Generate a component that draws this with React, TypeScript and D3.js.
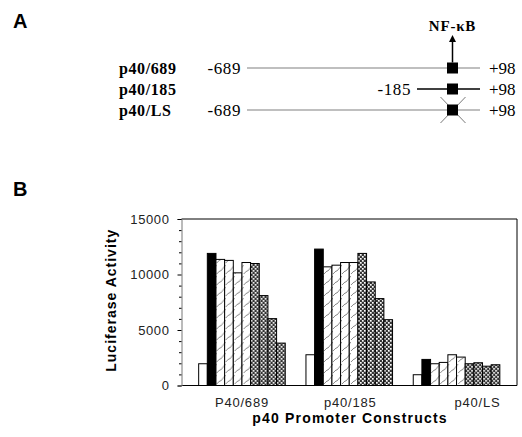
import React, { useEffect, useRef } from "react";
import * as d3 from "d3";

// panel B data
const groups = ["P40/689", "p40/185", "p40/LS"];
const series = ["s1", "s2", "s3", "s4", "s5", "s6", "s7", "s8", "s9", "s10"];
const seriesFill = ["white", "black", "hatch", "hatch", "hatch", "hatch", "dots", "dots", "dots", "dots"];
const valuesP689 = [1960, 11900, 11360, 11270, 10150, 11080, 10990, 8100, 6025, 3820];
const valuesP185 = [2770, 12290, 10690, 10840, 11080, 11080, 11900, 9330, 7830, 5930];
const valuesPLS = [970, 2350, 1960, 2080, 2770, 2560, 1960, 2050, 1740, 1870];
const groupValues = [valuesP689, valuesP185, valuesPLS];
const yTicks = [0, 5000, 10000, 15000];
const yMinorTicks = [1000, 2000, 3000, 4000, 6000, 7000, 8000, 9000, 11000, 12000, 13000, 14000];

// panel A data
const constructs = ["p40/689", "p40/185", "p40/LS"];
const starts = [-689, -185, -689];
const ends = [98, 98, 98];
const startLabels = ["-689", "-185", "-689"];
const endLabels = ["+98", "+98", "+98"];
const siteMutated = [false, false, true];
const nfkbSite = -110;

const width = 522;
const height = 437;

const sans = "'Liberation Sans', Arial, sans-serif";
const serif = "'Liberation Serif', 'Times New Roman', serif";

const left = 181.5;
const right = 517;
const top = 219;
const bottom = 385.5;

const x0 = d3.scaleBand().domain(groups).range([left, right]).paddingInner(0.193).paddingOuter(0.16);
const x1 = d3.scaleBand().domain(series).range([0, x0.bandwidth()]).padding(0);
const yB = d3.scaleLinear().domain([0, 15000]).range([bottom, top]);
const labelShift = [0, 1, 21];

export default function App() {
  const svgRef = useRef<SVGSVGElement>(null);

  useEffect(() => {
    const svg = d3.select(svgRef.current).select<SVGGElement>("g.chart");
    svg.selectAll("*").remove();

    const defs = svg.append("defs");
    const hatch = defs
      .append("pattern")
      .attr("id", "hatch")
      .attr("patternUnits", "userSpaceOnUse")
      .attr("width", 9)
      .attr("height", 11);
    hatch.append("rect").attr("width", 9).attr("height", 11).attr("fill", "white");
    hatch
      .append("path")
      .attr("d", "M0,10 L3,7 L4,7 L9,1")
      .attr("stroke", "#555")
      .attr("stroke-width", 0.7)
      .attr("fill", "none");

    const dots = defs
      .append("pattern")
      .attr("id", "dots")
      .attr("patternUnits", "userSpaceOnUse")
      .attr("width", 4)
      .attr("height", 4);
    dots.append("rect").attr("width", 4).attr("height", 4).attr("fill", "#333");
    dots.append("rect").attr("x", 0).attr("y", 0).attr("width", 1.7).attr("height", 1.7).attr("fill", "white");
    dots.append("rect").attr("x", 2).attr("y", 2).attr("width", 1.7).attr("height", 1.7).attr("fill", "white");

    const fillOf = (f: string) => (f === "hatch" ? "url(#hatch)" : f === "dots" ? "url(#dots)" : f);

    // ---------- Panel A ----------
    const xA = d3.scaleLinear().domain([-689, -185, nfkbSite, 98]).range([247, 417, 452.5, 480]);
    const yA = d3.scalePoint().domain(constructs).range([68, 110]);
    const lineColor = ["#aaa", "#000", "#aaa"];

    constructs.forEach((c, i) => {
      const y = yA(c) as number;
      svg
        .append("line")
        .attr("x1", xA(starts[i]))
        .attr("x2", xA(ends[i]))
        .attr("y1", y)
        .attr("y2", y)
        .attr("stroke", lineColor[i])
        .attr("stroke-width", 1.5);
      const sx = xA(nfkbSite);
      if (siteMutated[i]) {
        svg
          .append("path")
          .attr("d", `M${sx - 12},${y - 13} L${sx + 13},${y + 13} M${sx + 13},${y - 13} L${sx - 12},${y + 13}`)
          .attr("fill", "none")
          .attr("stroke", "#555")
          .attr("stroke-width", 0.8);
      }
      svg
        .append("rect")
        .attr("x", sx - 5.5)
        .attr("y", y - 5.5)
        .attr("width", 11)
        .attr("height", 11)
        .attr("fill", "black");
    });

    // NF-kB arrow
    const sx = xA(nfkbSite);
    const y0 = (yA(constructs[0]) as number) - 5.5;
    svg
      .append("line")
      .attr("x1", sx)
      .attr("x2", sx)
      .attr("y1", y0)
      .attr("y2", 40)
      .attr("stroke", "black")
      .attr("stroke-width", 1.5);
    svg
      .append("path")
      .attr("d", `M${sx},35 L${sx - 3.5},42 L${sx + 3.5},42 Z`)
      .attr("fill", "black");

    // ---------- Panel B ----------
    const g = svg
      .selectAll("g.group")
      .data(groups)
      .enter()
      .append("g")
      .attr("class", "group")
      .attr("transform", (d) => `translate(${x0(d)},0)`);

    g.selectAll("rect")
      .data((d, i) => groupValues[i].map((v, j) => ({ key: series[j], value: v, fill: seriesFill[j] })))
      .enter()
      .append("rect")
      .attr("x", (d) => x1(d.key) as number)
      .attr("y", (d) => yB(d.value))
      .attr("width", x1.bandwidth())
      .attr("height", (d) => bottom - yB(d.value))
      .attr("fill", (d) => fillOf(d.fill))
      .attr("stroke", "black")
      .attr("stroke-width", 1);

    // frame
    svg
      .append("path")
      .attr("d", `M${left},${top} L${right},${top} L${right},${bottom} L${left},${bottom}`)
      .attr("fill", "none")
      .attr("stroke", "black")
      .attr("stroke-width", 1);

    // y axis
    const yAxis = d3.axisLeft(yB).tickValues(yTicks).tickSize(4).tickPadding(8).tickFormat(d3.format("d"));
    const ya = svg.append("g").attr("transform", `translate(${left},0)`).call(yAxis);
    ya.select(".domain").attr("stroke", "#777");
    ya.selectAll("text")
      .attr("font-family", sans)
      .attr("font-size", 13)
      .attr("letter-spacing", 0.6)
      .attr("fill", "#222");
    const yMinor = d3.axisLeft(yB).tickValues(yMinorTicks).tickSize(2.5).tickFormat(() => "");
    const ym = svg.append("g").attr("transform", `translate(${left},0)`).call(yMinor);
    ym.select(".domain").remove();
  }, []);

  const xA = d3.scaleLinear().domain([-689, -185, nfkbSite, 98]).range([247, 417, 452.5, 480]);
  const yA = d3.scalePoint().domain(constructs).range([68, 110]);

  return (
    <svg
      ref={svgRef}
      width={width}
      height={height}
      style={{ position: "absolute", left: 0, top: 0, background: "white" }}
    >
      <g className="chart"></g>
      <text x={13} y={28} fontFamily={sans} fontWeight="bold" fontSize={20}>A</text>
      <text x={13} y={196} fontFamily={sans} fontWeight="bold" fontSize={20}>B</text>
      <text x={xA(nfkbSite)} y={31} textAnchor="middle" fontFamily={serif} fontWeight="bold" fontSize={15} letterSpacing={0.8}>
        NF-κB
      </text>
      {constructs.map((c, i) => (
        <g key={c}>
          <text x={119} y={yA(c)} dy="0.35em" fontFamily={serif} fontWeight="bold" fontSize={16} letterSpacing={0.6}>
            {c}
          </text>
          <text x={xA(starts[i]) - 6} y={yA(c)} dy="0.35em" textAnchor="end" fontFamily={serif} fontSize={17} letterSpacing={0.6}>
            {startLabels[i]}
          </text>
          <text x={xA(ends[i]) + 9} y={yA(c)} dy="0.35em" fontFamily={serif} fontSize={17}>
            {endLabels[i]}
          </text>
        </g>
      ))}
      <text
        transform={`translate(116,${(top + bottom) / 2 - 2}) rotate(-90)`}
        textAnchor="middle"
        fontFamily={sans}
        fontWeight="bold"
        fontSize={14}
        letterSpacing={1}
      >
        Luciferase Activity
      </text>
      <text y={407} textAnchor="middle" fontFamily={sans} fontSize={13} letterSpacing={0.8} fill="#222">
        {groups.map((grp, i) => (
          <tspan key={grp} x={(x0(grp) as number) + x0.bandwidth() / 2 + labelShift[i]} y={407}>
            {grp}
          </tspan>
        ))}
      </text>
      <text x={350} y={423} textAnchor="middle" fontFamily={sans} fontWeight="bold" fontSize={14} letterSpacing={1.2}>
        p40 Promoter Constructs
      </text>
    </svg>
  );
}
